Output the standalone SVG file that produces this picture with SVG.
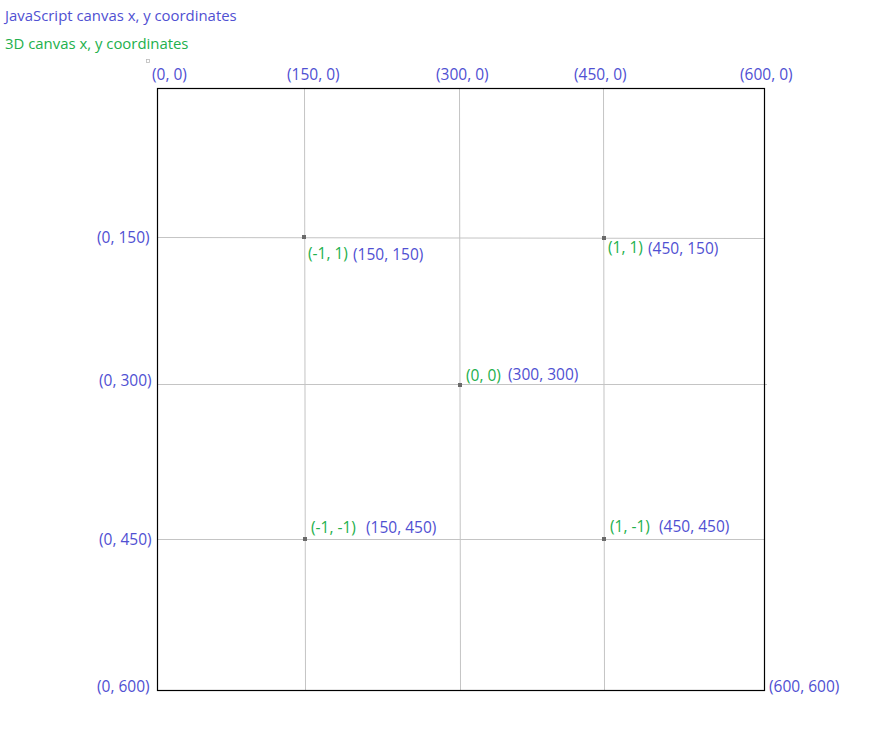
<svg xmlns="http://www.w3.org/2000/svg" width="869" height="733" viewBox="0 0 869 733">
<style>
text{font-family:"Open Sans","Liberation Sans",sans-serif;font-size:15.5px}
.leg{font-size:14.9px}
.b{fill:#5050d2}
.g{fill:#22b04c}
.grid{stroke:#c4c4c4;stroke-width:1;fill:none}
.dot{fill:#6a6a6a}
</style>
<rect width="869" height="733" fill="#fff"/>
<g id="legend">
<text class="b leg" x="5" y="21">JavaScript canvas x, y coordinates</text>
<text class="g leg" x="5" y="49">3D canvas x, y coordinates</text>
<rect x="146.5" y="59.5" width="3" height="3" fill="none" stroke="#bbb" stroke-width="0.8"/>
</g>
<g id="connectors">
<line class="grid" x1="304.5" y1="88" x2="305.5" y2="690"/>
<line class="grid" x1="459.5" y1="88" x2="460.5" y2="690"/>
<line class="grid" x1="603.5" y1="88" x2="604.5" y2="690"/>
<line class="grid" x1="157" y1="237.5" x2="765" y2="238.5"/>
<line class="grid" x1="157" y1="384.5" x2="767" y2="384.5"/>
<line class="grid" x1="157" y1="539.5" x2="765" y2="539.5"/>
</g>
<g id="canvas">
<rect x="157.5" y="88.5" width="607" height="602" fill="none" stroke="#000" stroke-width="1.2"/>
</g>
<g id="top-labels">
<text class="b" x="152" y="80">(0, 0)</text>
<text class="b" x="287" y="80">(150, 0)</text>
<text class="b" x="436" y="80">(300, 0)</text>
<text class="b" x="574" y="80">(450, 0)</text>
<text class="b" x="740" y="80">(600, 0)</text>
</g>
<g id="left-labels">
<text class="b" x="97" y="243">(0, 150)</text>
<text class="b" x="99" y="386">(0, 300)</text>
<text class="b" x="99" y="545">(0, 450)</text>
<text class="b" x="97" y="692">(0, 600)</text>
<text class="b" x="769" y="692">(600, 600)</text>
</g>
<g id="p1">
<rect class="dot" x="302" y="235" width="4" height="4"/>
<text class="g" x="308" y="259">(-1, 1)</text>
<text class="b" x="353" y="260">(150, 150)</text>
</g>
<g id="p2">
<rect class="dot" x="602" y="236" width="4" height="4"/>
<text class="g" x="608" y="253">(1, 1)</text>
<text class="b" x="648" y="254">(450, 150)</text>
</g>
<g id="p3">
<rect class="dot" x="458" y="383" width="4" height="4"/>
<text class="g" x="466" y="381">(0, 0)</text>
<text class="b" x="508" y="380">(300, 300)</text>
</g>
<g id="p4">
<rect class="dot" x="303" y="537" width="4" height="4"/>
<text class="g" x="311" y="533">(-1, -1)</text>
<text class="b" x="366" y="533">(150, 450)</text>
</g>
<g id="p5">
<rect class="dot" x="602" y="537" width="4" height="4"/>
<text class="g" x="610" y="532">(1, -1)</text>
<text class="b" x="659" y="532">(450, 450)</text>
</g>
</svg>
